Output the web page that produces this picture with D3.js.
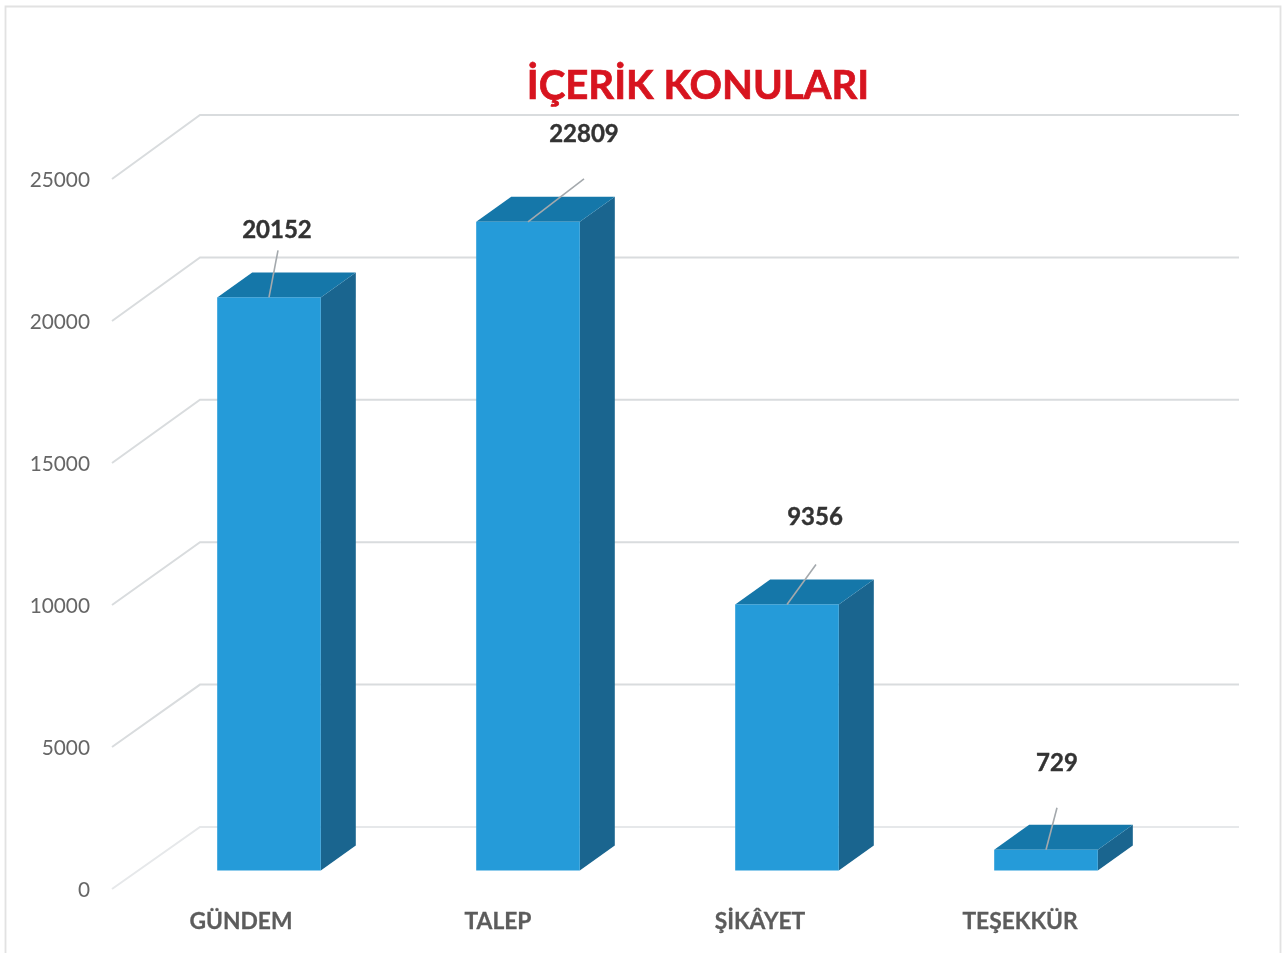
<!DOCTYPE html>
<html lang="tr">
<head>
<meta charset="utf-8">
<script src="https://cdn.jsdelivr.net/npm/d3@7/dist/d3.min.js"></script>
<style>
html,body{margin:0;padding:0;background:#fff;overflow:hidden}
svg{display:block;filter:blur(0.5px)}
text{font-family:Lato,"Open Sans",sans-serif}
</style>
</head>
<body>
<svg id="chart" width="1283" height="953"></svg>
<script>
const titleText = "İÇERİK KONULARI";
const categories = ["GÜNDEM", "TALEP", "ŞİKÂYET", "TEŞEKKÜR"];
const values = [20152, 22809, 9356, 729];
const tickValues = [0, 5000, 10000, 15000, 20000, 25000];

const svg = d3.select("#chart");
const depth = {x: 35, y: -25};

// Scales: front plane of the axis, back wall, and bar base plane
const yFront = d3.scaleLinear().domain([0, 25000]).range([889, 179]);
const yBack = d3.scaleLinear().domain([0, 25000]).range([827, 115]);
const yBar = d3.scaleLinear().domain([0, 25000]).range([870.5, 159.5]);
const x = d3.scaleBand().domain(categories).range([139.5, 1175.5]).paddingInner(0.6).paddingOuter(0.3);

// Frame
svg.append("path").attr("d", "M5.5,953V6.5H1280.5V953").attr("fill", "none").attr("stroke", "#e2e2e2").attr("stroke-width", 1.8);

// Floor & wall lines
const grid = svg.append("g").attr("fill", "none").attr("stroke-width", 2);
grid.selectAll("path").data(tickValues).join("path")
  .attr("stroke", d => d === 0 ? "#e6e8ea" : "#d9dcde")
  .attr("d", d => `M112,${yFront(d)}L200,${yBack(d)}H1239`);

// Y axis labels
const yAxis = d3.axisLeft(yFront).tickValues(tickValues).tickFormat(d3.format("d")).tickSize(0).tickPadding(0);
const axisG = svg.append("g").attr("transform", "translate(90,1)").call(yAxis);
axisG.select(".domain").remove();
axisG.selectAll("text").attr("font-size", 20.8).attr("fill", "#666").style("font-family", "Lato, sans-serif");

// Bars
const bw = x.bandwidth();
const bars = svg.append("g").selectAll("g").data(categories).join("g");
const X = d => x(d);
const T = (d, i) => yBar(values[i]);
const B = yBar(0);
bars.append("path").attr("fill", "#1a658f")
  .attr("d", (d, i) => `M${X(d)+bw},${T(d,i)}l${depth.x},${depth.y}V${B+depth.y}L${X(d)+bw},${B}Z`);
bars.append("path").attr("fill", "#1577a9")
  .attr("d", (d, i) => `M${X(d)},${T(d,i)}l${depth.x},${depth.y}h${bw}l${-depth.x},${-depth.y}Z`);
bars.append("rect").attr("fill", "#259bd9")
  .attr("x", d => X(d)).attr("width", bw)
  .attr("y", (d, i) => T(d, i)).attr("height", (d, i) => B - T(d, i));

// Data labels with leader lines, placed relative to each bar's top centre
const labelPlacement = [
  {lx: 9, ly: -47, tx: 8, ty: -69, cat: -28},
  {lx: 56, ly: -43, tx: 56, ty: -89, cat: -30},
  {lx: 29, ly: -40, tx: 28, ty: -89, cat: -27},
  {lx: 11, ly: -42, tx: 11, ty: -88, cat: -26}
];
const cx = d => X(d) + bw / 2;
bars.append("line").attr("stroke", "#a4a9ad").attr("stroke-width", 1.6)
  .attr("x1", d => cx(d)).attr("y1", (d, i) => T(d, i))
  .attr("x2", (d, i) => cx(d) + labelPlacement[i].lx)
  .attr("y2", (d, i) => T(d, i) + labelPlacement[i].ly);
bars.append("text").attr("text-anchor", "middle").attr("dominant-baseline", "central")
  .attr("font-size", 24).attr("font-weight", 700).attr("fill", "#333")
  .attr("stroke", "#333").attr("stroke-width", 0.4)
  .attr("x", (d, i) => cx(d) + labelPlacement[i].tx)
  .attr("y", (d, i) => T(d, i) + labelPlacement[i].ty)
  .text((d, i) => values[i]);

// Category labels
svg.append("g").selectAll("text").data(categories).join("text")
  .attr("text-anchor", "middle").attr("font-size", 22.8).attr("font-weight", 700).attr("fill", "#5c5c5c")
  .attr("stroke", "#5c5c5c").attr("stroke-width", 0.3)
  .attr("x", (d, i) => cx(d) + labelPlacement[i].cat).attr("y", 929)
  .text(d => d);

// Title
svg.append("text").attr("x", 698).attr("y", 99).attr("text-anchor", "middle")
  .attr("font-size", 40.2).attr("font-weight", 700).attr("fill", "#d7141f")
  .attr("stroke", "#d7141f").attr("stroke-width", 0.7)
  .text(titleText);
</script>
</body>
</html>
